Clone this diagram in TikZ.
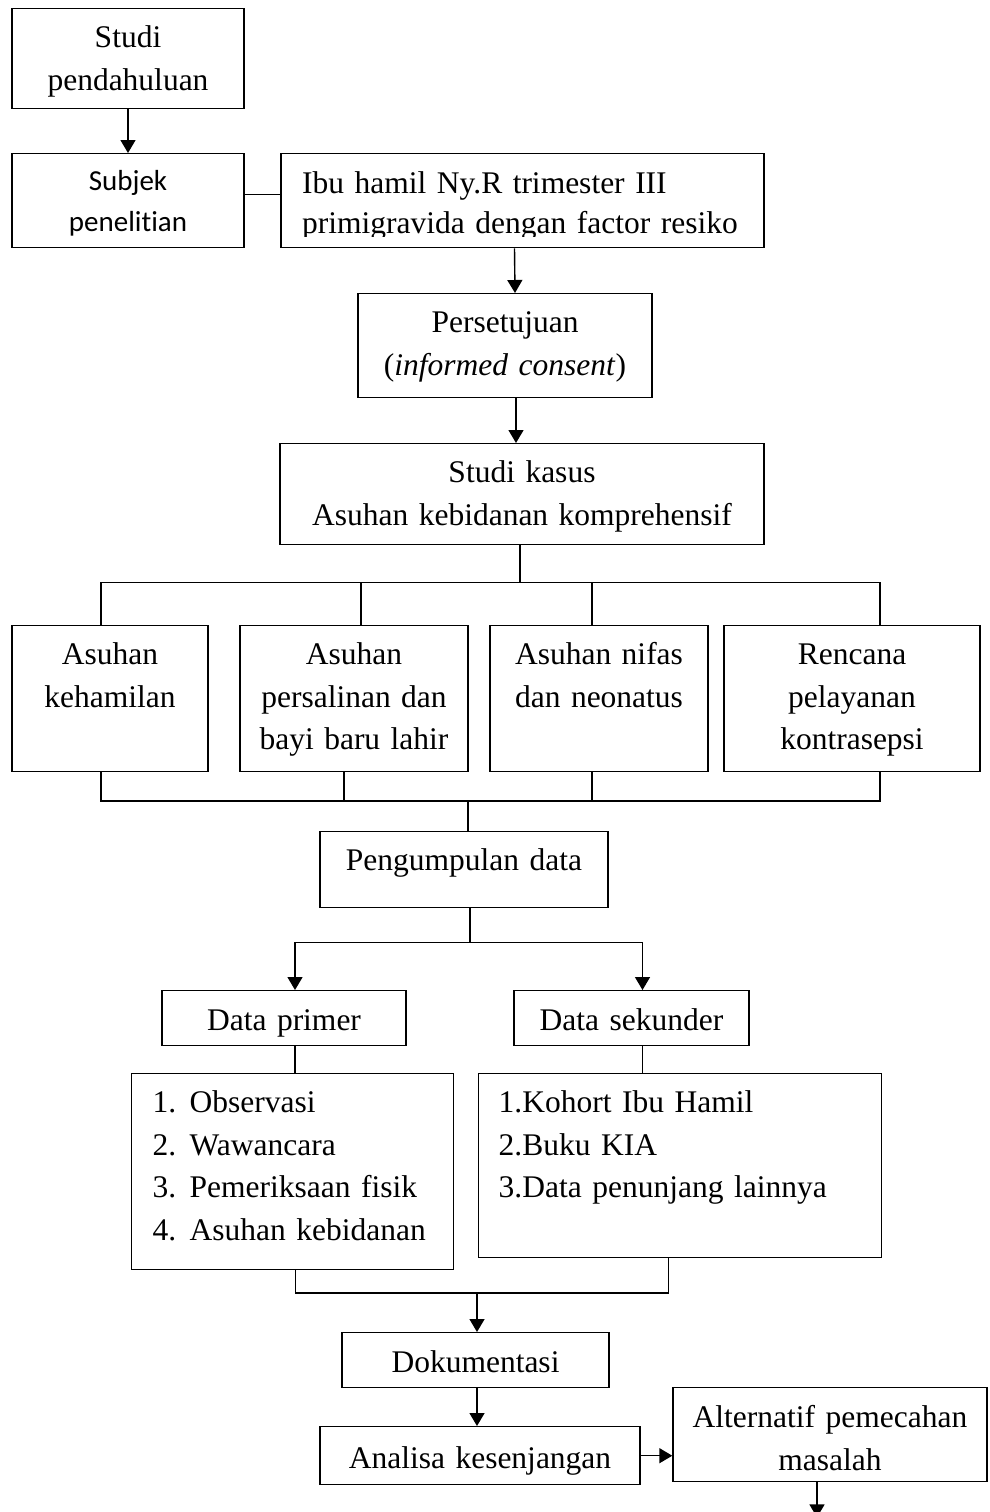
\documentclass[tikz,border=0pt]{standalone}
\usepackage{fontspec}
\setmainfont{Liberation Serif}
\newfontfamily\calibri{Carlito}[Ligatures=NoCommon]
\usepackage{tikz}
\usetikzlibrary{calc,positioning,arrows.meta}

\begin{document}
\begin{tikzpicture}[x=1pt, y=-1pt,
  box/.style={draw, line width=1.4pt, inner xsep=4pt, inner ysep=0pt,
    align=center, anchor=north, font=\fontsize{31.5}{42.5}\selectfont},
  lst/.style={box, anchor=north west, align=left},
  line/.style={line width=1.4pt},
  arr/.style={line, -{Triangle[length=13pt, width=15pt]}},
]
  \useasboundingbox (0,0) rectangle (989,1512);

  \node[box, text width=224pt, text height=39pt, text depth=61pt] (studi) at (128,8) {Studi\\pendahuluan};
  \node[box, minimum width=232pt, minimum height=94pt] (subjek) at (128,153) {};
  \node[box, minimum width=483pt, minimum height=94pt] (ibu) at (522.5,153) {};
  \begin{scope}
    \clip (subjek.north west) rectangle ([yshift=12pt]ibu.south east);
    \node[font=\calibri\fontsize{29}{41}\selectfont, align=center, inner sep=0pt,
      text width=224pt, text height=37pt, anchor=north] (subjek-t) at (subjek.north) {Subjek\\penelitian};
    \node[font=\fontsize{31.5}{40}\selectfont, align=left, inner sep=0pt,
      text width=455pt, text height=40pt, anchor=north west] (ibu-t) at (302,153)
      {Ibu hamil Ny.R trimester III\\primigravida dengan factor resiko};
  \end{scope}
  \node[box, text width=286pt, text height=39pt, text depth=65pt] (setuju) at (505,293) {Persetujuan\\(\textit{informed consent})};
  \node[box, text width=476pt, text height=39pt, text depth=62pt] (kasus) at (522,443) {Studi kasus\\Asuhan kebidanan komprehensif};

  \node[box, text width=188pt, text height=39pt, text depth=107pt] (hamil) at (110,625) {Asuhan\\kehamilan};
  \node[box, text width=220pt, text height=39pt, text depth=107pt] (salin) at (354,625) {Asuhan\\persalinan dan\\bayi baru lahir};
  \node[box, text width=210pt, text height=39pt, text depth=107pt] (nifas) at (599,625) {Asuhan nifas\\dan neonatus};
  \node[box, text width=248pt, text height=39pt, text depth=107pt] (kb) at (852,625) {Rencana\\pelayanan\\kontrasepsi};

  \node[box, text width=280pt, text height=39pt, text depth=37pt] (kumpul) at (464,831) {Pengumpulan data};
  \node[box, text width=236pt, text height=40pt, text depth=15pt] (primer) at (284,990) {Data primer};
  \node[box, text width=227pt, text height=40pt, text depth=15pt] (sekunder) at (631.5,990) {Data sekunder};

  \node[lst, inner xsep=21pt, text width=280pt, text height=39pt, text depth=157pt] (lprimer) at (131,1073)
    {\makebox[37pt][l]{1.}Observasi\\\makebox[37pt][l]{2.}Wawancara\\\makebox[37pt][l]{3.}Pemeriksaan fisik\\\makebox[37pt][l]{4.}Asuhan kebidanan};
  \node[lst, inner xsep=20pt, text width=363pt, text height=39pt, text depth=145pt] (lsekunder) at (478,1073)
    {1.Kohort Ibu Hamil\\2.Buku KIA\\3.Data penunjang lainnya};

  \node[box, text width=259pt, text height=40pt, text depth=15pt] (dok) at (475.5,1332) {Dokumentasi};
  \node[box, text width=312pt, text height=42pt, text depth=16pt] (analisa) at (480,1426) {Analisa kesenjangan};
  \node[box, text width=306pt, text height=40pt, text depth=54pt] (alt) at (830,1387) {Alternatif pemecahan\\masalah};

  \draw[arr] (studi) -- (subjek);
  \draw[line] ([yshift=6pt]subjek.east) -- ([yshift=6pt]ibu.west);
  \draw[arr] ([xshift=-8pt]ibu.south) -- ([xshift=10pt]setuju.north);
  \draw[arr] ([xshift=11pt]setuju.south) -- ([xshift=-6pt]kasus.north);

  \coordinate (bus1) at ($(kasus.south)+(-2,37)$);
  \draw[line] (kasus.south -| bus1) -- (bus1);
  \foreach \n/\dx in {hamil/-9,salin/7,nifas/-7,kb/28}
    \draw[line] ([xshift=\dx pt]\n.north) |- (bus1);

  \coordinate (bus2) at ($(kumpul.north)+(4,-30)$);
  \foreach \n/\dx in {hamil/-9,salin/-10,nifas/-7,kb/28}
    \draw[line] ([xshift=\dx pt]\n.south) |- (bus2);
  \draw[line] (bus2) -- (kumpul.north -| bus2);

  \coordinate (split) at ($(kumpul.south)+(6,34)$);
  \draw[line] (kumpul.south -| split) -- (split);
  \coordinate (pdrop) at ([xshift=11pt]primer.south);
  \coordinate (sdrop) at ([xshift=11pt]sekunder.south);
  \draw[arr] (split) -| (pdrop |- primer.north);
  \draw[arr] (split) -| (sdrop |- sekunder.north);
  \draw[line] (pdrop) -- (pdrop |- lprimer.north);
  \draw[line] (sdrop) -- (sdrop |- lsekunder.north);

  \coordinate (bus3) at ($(dok.north)+(1.5,-39)$);
  \draw[line] ([xshift=3pt]lprimer.south) |- (bus3);
  \draw[line] ([xshift=-11.5pt]lsekunder.south) |- (bus3);
  \draw[arr] (bus3) -- (dok.north -| bus3);
  \draw[arr] (bus3 |- dok.south) -- (bus3 |- analisa.north);
  \draw[arr] (analisa.east) -- (analisa.east -| alt.west);
  \coordinate (out) at ($(alt.south)+(-13,35)$);
  \draw[arr] (alt.south -| out) -- (out);
\end{tikzpicture}
\end{document}
